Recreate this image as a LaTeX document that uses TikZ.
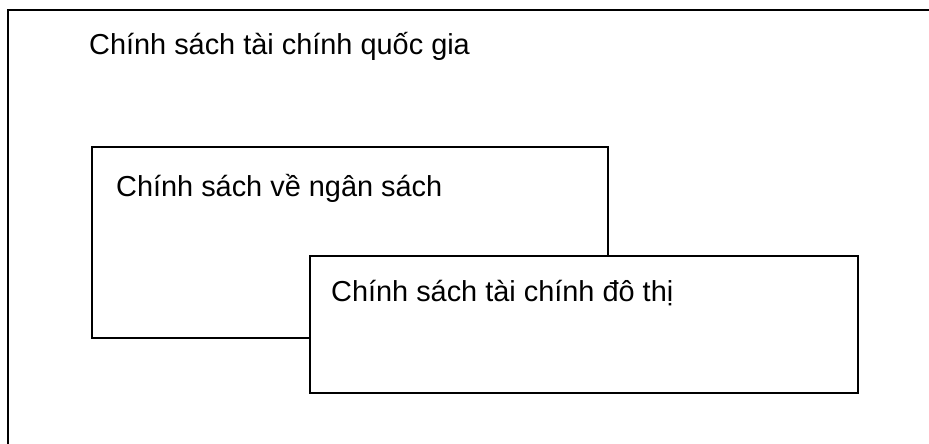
\documentclass[tikz,border=0pt]{standalone}
\usepackage{fontspec}
\setmainfont{Liberation Sans}
\begin{document}
\begin{tikzpicture}[x=1bp,y=-1bp,
  frame/.style={draw=black,line width=1.6bp},
  panel/.style={frame,fill=white,rectangle,inner sep=0pt,anchor=north west},
  caption/.style={anchor=base west,inner sep=0pt,font=\fontsize{29}{33}\selectfont}]
  \useasboundingbox (0,0) rectangle (929,444);
  \clip (0,0) rectangle (929,444);
  % national finance frame (runs off the page to the right and bottom)
  \coordinate (fr) at (960,10);
  \coordinate (fb) at (8,470);
  \coordinate (fo) at (8,10);
  \draw[frame] (fb) -- (fo) -- (fr);
  \node[caption] (national) at (89,55) {Chính sách tài chính quốc gia};
  % budget policy panel
  \node[panel,minimum width=516bp,minimum height=191bp] (budget) at (91,146) {};
  \node[caption] (budgettxt) at (116,197) {Chính sách về ngân sách};
  % urban finance panel, drawn on top
  \node[panel,minimum width=548bp,minimum height=137bp] (urban) at (309,255) {};
  \node[caption] (urbantxt) at (331,302) {Chính sách tài chính đô thị};
\end{tikzpicture}
\end{document}
